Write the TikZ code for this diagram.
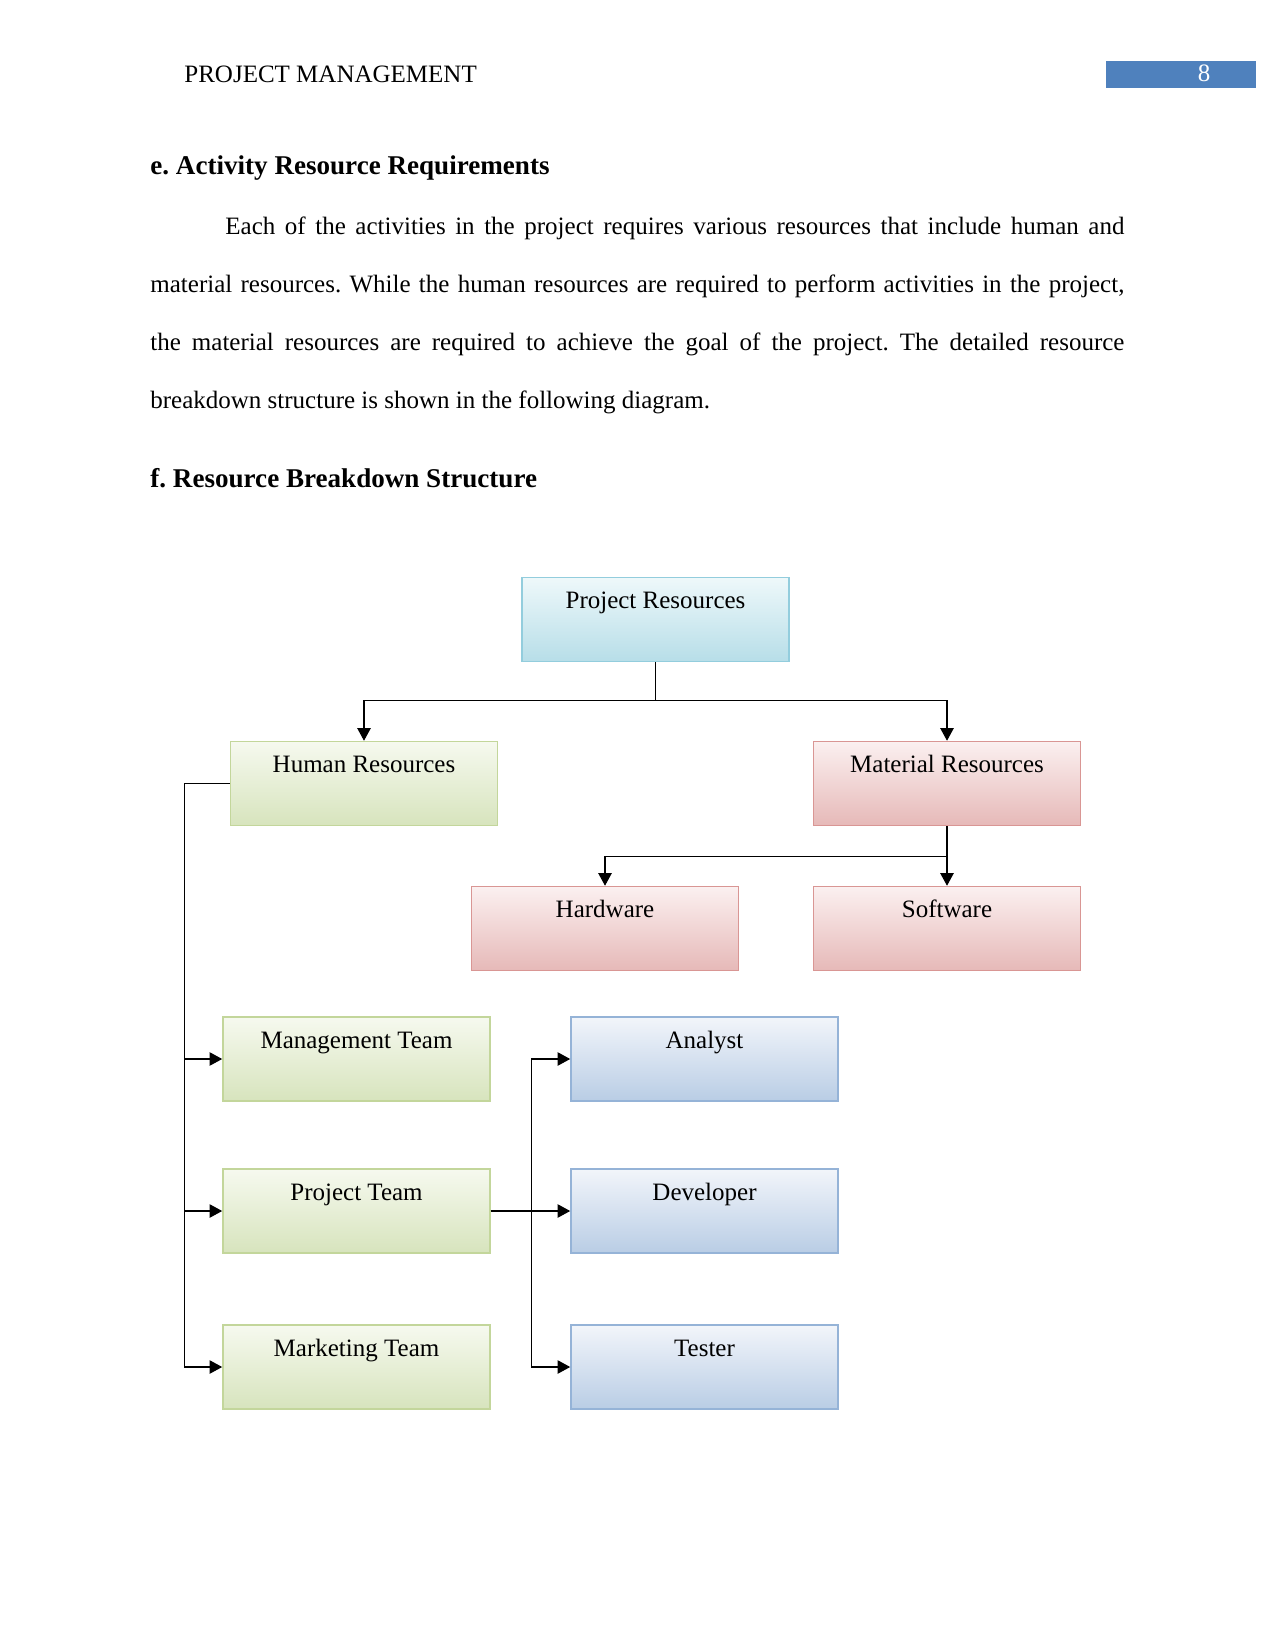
\documentclass[tikz,border=0pt]{standalone}
\usepackage{fontspec}
\setmainfont{Liberation Serif}
\usetikzlibrary{shapes,arrows.meta,positioning,calc}
\frenchspacing

\definecolor{hdrblue}{HTML}{4F81BD}
\definecolor{prjline}{HTML}{93CDDD}
\definecolor{prjtop}{HTML}{EEF8FA}
\definecolor{prjbot}{HTML}{B7DEE8}
\definecolor{hrline}{HTML}{C3D69B}
\definecolor{hrtop}{HTML}{F6F9EF}
\definecolor{hrbot}{HTML}{D7E4BD}
\definecolor{matline}{HTML}{D99694}
\definecolor{mattop}{HTML}{FBF0F0}
\definecolor{matbot}{HTML}{E6B9B8}
\definecolor{roleline}{HTML}{95B3D7}
\definecolor{roletop}{HTML}{F2F5FA}
\definecolor{rolebot}{HTML}{B9CDE5}

\begin{document}
\begin{tikzpicture}[
        x=0.48pt, y=-0.48pt,
        body/.style={font=\fontsize{12}{14}\selectfont, inner sep=0pt},
        heading/.style={body, font=\fontsize{13}{15}\selectfont\bfseries},
        box/.style={draw, rectangle, line width=0.75pt, minimum width=128.2pt,
            inner xsep=0pt, inner ysep=0pt, text height=15pt, text depth=25.3pt,
            font=\fontsize{12}{14}\selectfont},
        prjbox/.style={box, draw=prjline, top color=prjtop, bottom color=prjbot},
        hrbox/.style={box, draw=hrline, top color=hrtop, bottom color=hrbot},
        matbox/.style={box, draw=matline, top color=mattop, bottom color=matbot},
        rolebox/.style={box, draw=roleline, top color=roletop, bottom color=rolebot},
        link/.style={draw, line width=0.5pt, -{Triangle[length=6pt,width=6.4pt]}}
    ]
    \useasboundingbox[fill=white] (0,0) rectangle (1275,1650);

    % page header
    \node[body, anchor=base west] (hdr) at (184,83) {PROJECT MANAGEMENT};
    \node[fill=hdrblue, minimum width=72pt, minimum height=13pt, inner sep=0pt] (pagebox) at (1181,74.5) {};
    \node[body, anchor=base, text=white] (pagenum) at (1204,82) {8};

    % text
    \node[heading, anchor=base west] (heade) at (150,175)
        {e. Activity Resource Requirements};
    \node[body, anchor=base west, text width=467.5pt, align=justify,
          font=\fontsize{12}{27.7}\selectfont] (para) at (150,235)
        {\hspace*{36pt}Each of the activities in the project requires various resources that include human and\linebreak
         material resources. While the human resources are required to perform activities in the project,\linebreak
         the material resources are required to achieve the goal of the project. The detailed resource\linebreak
         breakdown structure is shown in the following diagram.};
    \node[heading, anchor=base west] (headf) at (150,487)
        {f. Resource Breakdown Structure};

    % breakdown boxes
    \node[prjbox] (proj) at (655.5,619.5) {Project Resources};
    \node[hrbox] (human) at (364,783.5) {Human Resources};
    \node[matbox] (material) at (947,783.5) {Material Resources};
    \node[matbox] (hardware) at (605,928.5) {Hardware};
    \node[matbox] (software) at (947,928.5) {Software};
    \node[hrbox] (mgmt) at (356.5,1059) {Management Team};
    \node[hrbox] (pteam) at (356.5,1211) {Project Team};
    \node[hrbox] (mkt) at (356.5,1367) {Marketing Team};
    \node[rolebox] (analyst) at (704.5,1059) {Analyst};
    \node[rolebox] (dev) at (704.5,1211) {Developer};
    \node[rolebox] (tester) at (704.5,1367) {Tester};

    % connectors
    \draw[link] (proj.south) -- ++(0,38) -| (human.north);
    \draw[link] (proj.south) -- ++(0,38) -| (material.north);
    \draw[link] (material.south) -- ++(0,30) -| (hardware.north);
    \draw[link] (material.south) -- (software.north);
    \foreach \team in {mgmt,pteam,mkt}
        \draw[link] (human.west) -- ++(-45,0) |- (\team.west);
    \foreach \role in {analyst,dev,tester}
        \draw[link] (pteam.east) -- ++(41,0) |- (\role.west);
\end{tikzpicture}
\end{document}
